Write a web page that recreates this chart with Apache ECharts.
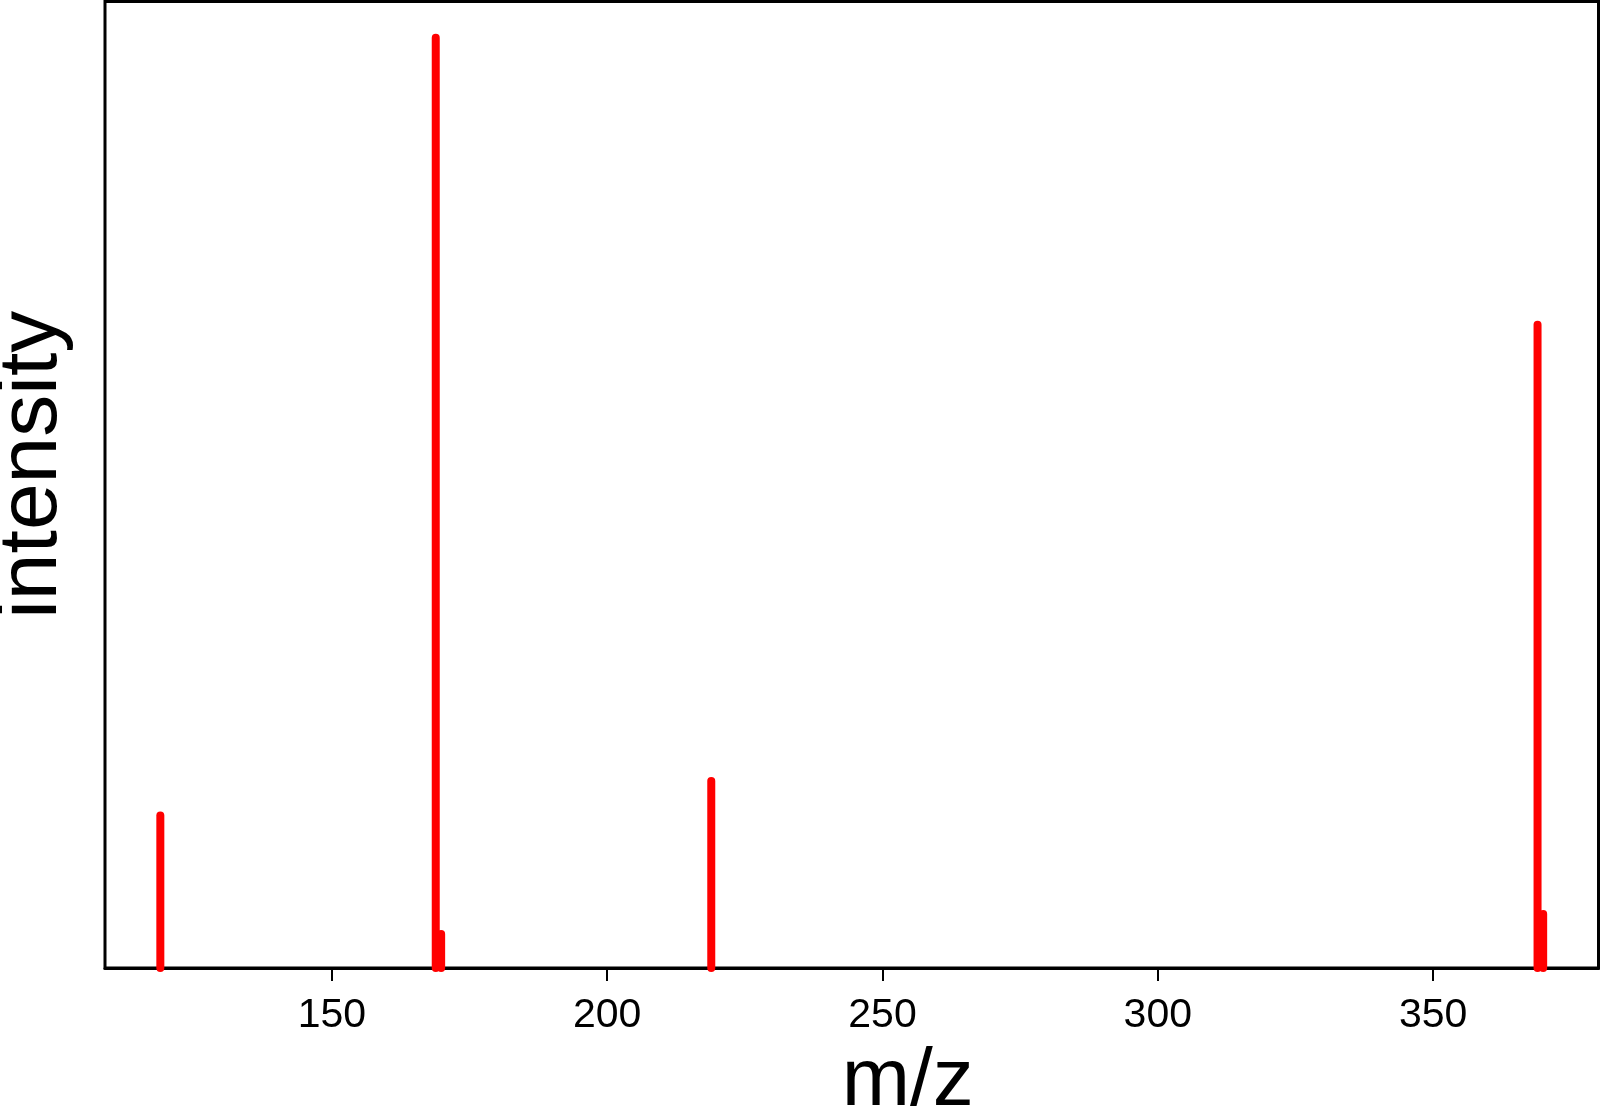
<!DOCTYPE html>
<html>
<head>
<meta charset="utf-8">
<script src="https://cdn.jsdelivr.net/npm/echarts@6/dist/echarts.min.js"></script>
<style>
  html, body { margin: 0; padding: 0; background: #fff; }
  #chart { width: 1600px; height: 1108px; }
</style>
</head>
<body>
<div id="chart"></div>
<script>
// peak list (m/z, relative intensity)
var mzValues = [118.84, 168.86, 169.84, 218.9, 368.97, 369.99];
var intensityValues = [16.4, 100, 3.65, 20.1, 69.15, 5.8];
var xTickValues = [150, 200, 250, 300, 350];

var fontFamily = "'Liberation Sans', Arial, sans-serif";

var peaks = mzValues.map((mz, i) => [mz, intensityValues[i]]);

var chart = echarts.init(document.getElementById('chart'));

var option = {
    backgroundColor: '#fff',
    animation: false,
    grid: {
        left: 105,
        right: 1.5,
        top: 1.5,
        bottom: 140,
        outerBoundsMode: 'none',
        containLabel: false,
        show: true,
        borderColor: '#000',
        borderWidth: 3
    },
    xAxis: {
        type: 'value',
        min: 108.79,
        max: 380.04,
        name: 'm/z',
        nameLocation: 'middle',
        nameGap: 58,
        nameTextStyle: {
            fontFamily: fontFamily,
            fontSize: 82,
            color: '#000',
            padding: [0, 0, 0, 112]
        },
        axisLine: { show: true, lineStyle: { color: '#000', width: 3 } },
        axisTick: {
            show: true,
            length: 13,
            customValues: xTickValues,
            lineStyle: { color: '#000', width: 2 }
        },
        axisLabel: {
            show: true,
            customValues: xTickValues,
            margin: 27,
            fontFamily: fontFamily,
            fontSize: 41,
            color: '#000'
        },
        splitLine: { show: false }
    },
    yAxis: {
        type: 'value',
        min: 0,
        max: 103.9,
        name: 'intensity',
        nameLocation: 'middle',
        nameGap: 30,
        nameTextStyle: {
            fontFamily: fontFamily,
            fontSize: 84,
            color: '#000',
            padding: [0, 0, 0, 40]
        },
        axisLine: { show: false },
        axisTick: { show: false },
        axisLabel: { show: false },
        splitLine: { show: false }
    },
    series: [
        {
            type: 'custom',
            clip: false,
            data: peaks,
            renderItem: (params, api) => {
                var base = api.coord([api.value(0), 0]);
                var top = api.coord([api.value(0), api.value(1)]);
                return {
                    type: 'line',
                    shape: { x1: base[0], y1: base[1], x2: top[0], y2: top[1] },
                    style: { stroke: '#ff0000', lineWidth: 8, lineCap: 'round' }
                };
            }
        }
    ]
};

chart.setOption(option);
</script>
</body>
</html>
